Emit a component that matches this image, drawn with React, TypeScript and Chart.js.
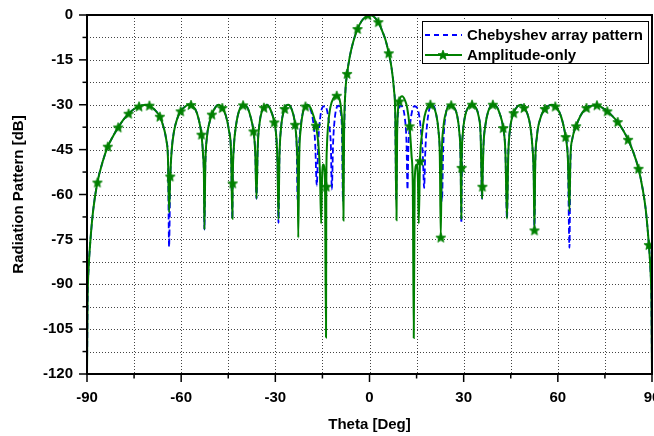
import React, { useEffect, useRef } from 'react';
import { Chart, registerables } from 'chart.js';

Chart.register(...registerables);

// ---------- data ----------
const xTickValues = [-90, -60, -30, 0, 30, 60, 90];
const yTickValues = [0, -15, -30, -45, -60, -75, -90, -105, -120];
const xTitle = 'Theta [Deg]';
const yTitle = 'Radiation Pattern [dB]';
const seriesNames = ['Chebyshev array pattern', 'Amplitude-only'];

// Chebyshev array pattern [theta, dB]
const chebyshevPattern: [number, number][] = [
  [-90, -120], [-89.8, -95], [-89.5, -85], [-89.0, -76.5], [-88.0, -65],
  [-86.69, -56], [-85.0, -49], [-83.37, -44], [-81.7, -40.5], [-80.06, -37.6],
  [-78.4, -35], [-76.74, -33], [-75.1, -31.5], [-73.43, -30.6], [-71.8, -30.1],
  [-70.11, -30.3], [-68.5, -31.6], [-66.8, -34], [-65.6, -37.5], [-64.7, -42],
  [-64.2, -48], [-63.85, -77.5], [-63.48, -55], [-63.0, -45], [-62.3, -39],
  [-61.3, -34.8], [-60.17, -32.2], [-58.5, -30.4], [-57.5, -30], [-56.85, -30.1],
  [-55.5, -31.5], [-54.5, -34.5], [-53.54, -40], [-53.0, -47], [-52.75, -54],
  [-52.6, -71.7], [-52.3, -50], [-51.8, -41], [-51.0, -36], [-50.22, -33.3],
  [-49.0, -30.7], [-48.0, -30], [-46.91, -31.1], [-45.8, -33.5], [-44.8, -38.5],
  [-44.1, -46], [-43.68, -68.1], [-43.59, -56.3], [-43.2, -44], [-42.6, -37.5],
  [-41.6, -32.2], [-40.28, -30.2], [-39.0, -30.8], [-37.9, -34], [-36.96, -38.9],
  [-36.4, -46], [-36.0, -61.4], [-35.6, -44], [-35.0, -36], [-34.3, -32.2],
  [-33.65, -31], [-32.7, -30], [-31.6, -31.5], [-30.33, -35.9], [-29.6, -42],
  [-29.3, -50], [-29.0, -69.5], [-28.7, -48], [-28.2, -38], [-27.02, -31.4],
  [-25.9, -30], [-24.8, -31.5], [-23.7, -36.7], [-23.2, -44], [-22.9, -62],
  [-22.5, -45], [-22.0, -38], [-21.2, -32.5], [-20.39, -30.6], [-19.8, -30],
  [-18.8, -31.5], [-17.9, -36], [-17.3, -43], [-16.8, -57], [-16.3, -42],
  [-15.6, -33.5], [-14.9, -30.7], [-14.2, -30.5], [-13.5, -32], [-12.8, -37],
  [-12.3, -44], [-12.0, -58.3], [-11.6, -43], [-11.0, -34], [-10.4, -30.8],
  [-9.9, -30.3], [-9.3, -32], [-8.8, -38], [-8.45, -62], [-8.1, -40],
  [-7.7, -26], [-7.13, -19.7], [-6.3, -14], [-5.2, -9], [-3.81, -4.7],
  [-2.5, -2], [-0.5, -0.1], [0, 0], [1.2, -0.4], [2.82, -2.4],
  [4.3, -6], [5.2, -8.7], [6.14, -12.8], [7.0, -17.5], [7.8, -25],
  [8.2, -33], [8.5, -62], [8.8, -38], [9.3, -32], [9.9, -30.3],
  [10.5, -30.8], [11.2, -34], [11.8, -43], [12.1, -58.3], [12.4, -44],
  [12.9, -37], [13.6, -32], [14.3, -30.5], [15.0, -30.8], [15.8, -33.5],
  [16.6, -41], [17.0, -47], [17.4, -57.8], [17.8, -45], [18.4, -36],
  [19.4, -30.6], [20.3, -30.2], [21.2, -33], [22.0, -39], [22.6, -48],
  [23.1, -62], [23.5, -44], [24.4, -32.5], [25.2, -30.4], [26.03, -30.2],
  [27.0, -31], [27.9, -33.5], [28.6, -39], [29.0, -47], [29.25, -69.5],
  [29.5, -45], [29.7, -40], [30.4, -34], [31.5, -30.8], [32.66, -30],
  [33.8, -30.8], [34.8, -34], [35.4, -40], [35.88, -61.4], [35.97, -57.4],
  [36.3, -44], [36.9, -37], [37.8, -32.3], [39.29, -30], [40.5, -30.6],
  [41.5, -33], [42.6, -37.8], [43.3, -46], [43.8, -68.1], [44.2, -47],
  [44.8, -38], [45.92, -32.8], [47.2, -30.5], [48.3, -30], [49.23, -31.1],
  [50.3, -33], [51.2, -37], [51.9, -44], [52.3, -53], [52.55, -72],
  [52.8, -50], [53.3, -41], [54.3, -35], [55.86, -31.4], [57.5, -30.1],
  [58.2, -30], [59.18, -30.6], [60.5, -32.5], [61.6, -36], [62.49, -40.8],
  [63.2, -48], [63.7, -77.8], [64.0, -50], [64.6, -41.5], [65.81, -37.2],
  [67.3, -33.5], [69.12, -31.1], [70.8, -30.3], [72.44, -30.2], [74.0, -30.9],
  [75.75, -32.2], [77.4, -33.8], [79.07, -35.8], [80.8, -38.5], [82.38, -41.7],
  [84.1, -46], [85.7, -51.4], [87.0, -58], [88.0, -65], [89.01, -76.9],
  [89.5, -85], [89.8, -95], [90, -120],
];

// Amplitude-only pattern [theta, dB]
const amplitudeOnly: [number, number][] = [
  [-90, -120], [-89.8, -95], [-89.5, -85], [-89.0, -76.5], [-88.0, -65],
  [-86.69, -56], [-85.0, -49], [-83.37, -44], [-81.7, -40.5], [-80.06, -37.6],
  [-78.4, -35], [-76.74, -33], [-75.1, -31.5], [-73.43, -30.6], [-71.8, -30.1],
  [-70.11, -30.3], [-68.5, -31.6], [-66.8, -34], [-65.6, -37.5], [-64.7, -42],
  [-64.2, -48], [-63.85, -66], [-63.48, -54], [-63.0, -45], [-62.3, -39],
  [-61.3, -34.8], [-60.17, -32.2], [-58.5, -30.4], [-57.5, -30], [-56.85, -30.1],
  [-55.5, -31.5], [-54.5, -34.5], [-53.54, -40], [-53.0, -47], [-52.75, -54],
  [-52.6, -71.7], [-52.3, -50], [-51.8, -41], [-51.0, -36], [-50.22, -33.3],
  [-49.0, -30.7], [-48.0, -30], [-46.91, -31.1], [-45.8, -33.5], [-44.8, -38.5],
  [-44.1, -46], [-43.68, -68.1], [-43.59, -56.3], [-43.2, -44], [-42.6, -37.5],
  [-41.6, -32.2], [-40.28, -30.2], [-39.0, -30.8], [-37.9, -34], [-36.96, -38.9],
  [-36.4, -46], [-36.0, -61.4], [-35.6, -44], [-35.0, -36], [-34.3, -32.2],
  [-33.65, -31], [-32.7, -30], [-31.6, -31.5], [-30.33, -35.9], [-29.6, -42],
  [-29.3, -50], [-29.0, -68.3], [-28.7, -48], [-28.2, -38], [-27.02, -31.4],
  [-25.9, -30], [-24.8, -31.5], [-23.7, -36.7], [-23.1, -45], [-22.85, -55],
  [-22.7, -74.4], [-22.4, -48], [-21.9, -38], [-21.2, -32.5], [-20.39, -30.6],
  [-19.7, -30], [-18.8, -31], [-17.9, -33.5], [-17.07, -37], [-16.3, -43],
  [-15.8, -52], [-15.4, -69.7], [-15.1, -54], [-14.7, -50], [-14.2, -55],
  [-13.85, -107.8], [-13.76, -57.4], [-13.6, -45], [-13.2, -37], [-12.5, -31],
  [-11.5, -27.8], [-10.44, -27], [-9.6, -28], [-9.0, -32], [-8.6, -40],
  [-8.3, -68.7], [-8.1, -40], [-7.7, -26], [-7.13, -19.7], [-6.3, -14],
  [-5.2, -9], [-3.81, -4.7], [-2.5, -2], [-0.5, -0.1], [0, 0],
  [1.2, -0.4], [2.82, -2.4], [4.3, -6], [5.2, -8.7], [6.14, -12.8],
  [7.0, -17.5], [7.8, -25], [8.2, -33], [8.6, -68.6], [8.8, -40],
  [9.45, -28.9], [10.4, -27.2], [11.3, -28.5], [12.0, -31], [12.77, -37.2],
  [13.4, -47], [13.8, -58], [14.1, -108], [14.4, -55], [15.0, -50],
  [15.4, -54], [15.7, -69.7], [16.08, -48.9], [16.7, -40], [17.5, -34],
  [18.4, -31], [19.4, -30], [20.3, -30.5], [21.2, -33], [22.0, -39],
  [22.4, -47], [22.71, -74.4], [23.0, -48], [23.5, -38], [24.4, -32.5],
  [25.2, -30.4], [26.03, -30.2], [27.0, -31], [27.9, -33.5], [28.6, -39],
  [29.0, -47], [29.25, -68.1], [29.34, -51.1], [29.7, -40], [30.4, -34],
  [31.5, -30.8], [32.66, -30], [33.8, -30.8], [34.8, -34], [35.4, -40],
  [35.88, -61.4], [35.97, -57.4], [36.3, -44], [36.9, -37], [37.8, -32.3],
  [39.29, -30], [40.5, -30.6], [41.5, -33], [42.6, -37.8], [43.3, -46],
  [43.8, -68.1], [44.2, -47], [44.8, -38], [45.92, -32.8], [47.2, -30.5],
  [48.3, -30], [49.23, -31.1], [50.3, -33], [51.2, -37], [51.9, -44],
  [52.3, -53], [52.55, -72], [52.8, -50], [53.3, -41], [54.3, -35],
  [55.86, -31.4], [57.5, -30.1], [58.2, -30], [59.18, -30.6], [60.5, -32.5],
  [61.6, -36], [62.49, -40.8], [63.2, -48], [63.7, -65.6], [64.0, -48],
  [64.6, -41.5], [65.81, -37.2], [67.3, -33.5], [69.12, -31.1], [70.8, -30.3],
  [72.44, -30.2], [74.0, -30.9], [75.75, -32.2], [77.4, -33.8], [79.07, -35.8],
  [80.8, -38.5], [82.38, -41.7], [84.1, -46], [85.7, -51.4], [87.0, -58],
  [88.0, -65], [89.01, -76.9], [89.5, -85], [89.8, -95], [90, -120],
];

// theta values (present in amplitudeOnly) carrying a star marker
const amplitudeStarTheta = [
  -86.69, -83.37, -80.06, -76.74, -73.43, -70.11, -66.8, -63.48, -60.17, -56.85,
  -53.54, -50.22, -46.91, -43.59, -40.28, -36.96, -33.65, -30.33, -27.02, -23.7,
  -20.39, -17.07, -13.76, -10.44, -7.13, -3.81, -0.5, 2.82, 6.14, 9.45,
  12.77, 16.08, 19.4, 22.71, 26.03, 29.34, 32.66, 35.97, 39.29, 42.6,
  45.92, 49.23, 52.55, 55.86, 59.18, 62.49, 65.81, 69.12, 72.44, 75.75,
  79.07, 82.38, 85.7, 89.01,
];

const GREEN = '#008000';
const BLUE = '#0000ff';
const FONT = "'Liberation Sans', Arial, Helvetica, sans-serif";

function starPath(ctx: CanvasRenderingContext2D, cx: number, cy: number, R: number, r: number) {
  ctx.beginPath();
  for (let i = 0; i < 10; i++) {
    const a = -Math.PI / 2 + (i * Math.PI) / 5;
    const rad = i % 2 === 0 ? R : r;
    ctx.lineTo(cx + rad * Math.cos(a), cy + rad * Math.sin(a));
  }
  ctx.closePath();
}

function makeStar(): HTMLCanvasElement {
  const c = document.createElement('canvas');
  c.width = 12;
  c.height = 12;
  const g = c.getContext('2d')!;
  starPath(g, 6, 6.3, 5.2, 2.3);
  g.fillStyle = GREEN;
  g.fill();
  g.strokeStyle = GREEN;
  g.lineWidth = 0.8;
  g.stroke();
  return c;
}

export default function App() {
  const ref = useRef<HTMLCanvasElement | null>(null);

  useEffect(() => {
    document.body.style.margin = '0';
    const canvas = ref.current;
    if (!canvas) return;
    const star = makeStar();
    const starSet = new Set(amplitudeStarTheta);

    const framePlugin = {
      id: 'frameAndGrid',
      beforeDatasetsDraw(chart: any) {
        const { ctx, chartArea } = chart;
        const xs = chart.scales.x;
        const ys = chart.scales.y;
        ctx.save();
        ctx.strokeStyle = '#444';
        ctx.lineWidth = 1;
        ctx.setLineDash([1, 2]);
        for (let v = -75; v <= 75; v += 15) {
          const px = Math.round(xs.getPixelForValue(v)) + 0.5;
          ctx.beginPath();
          ctx.moveTo(px, chartArea.top);
          ctx.lineTo(px, chartArea.bottom);
          ctx.stroke();
        }
        for (let v = -112.5; v <= -7.5; v += 7.5) {
          const py = Math.round(ys.getPixelForValue(v)) + 0.5;
          ctx.beginPath();
          ctx.moveTo(chartArea.left, py);
          ctx.lineTo(chartArea.right, py);
          ctx.stroke();
        }
        ctx.restore();
      },
      afterDraw(chart: any) {
        const { ctx, chartArea } = chart;
        const xs = chart.scales.x;
        const ys = chart.scales.y;
        ctx.save();
        // frame
        ctx.strokeStyle = '#000';
        ctx.lineWidth = 2;
        ctx.setLineDash([]);
        ctx.strokeRect(chartArea.left, chartArea.top, chartArea.right - chartArea.left, chartArea.bottom - chartArea.top);
        // ticks
        ctx.lineWidth = 1.5;
        for (let v = -90; v <= 90; v += 15) {
          const major = v % 30 === 0;
          const px = xs.getPixelForValue(v);
          ctx.beginPath();
          ctx.moveTo(px, chartArea.bottom);
          ctx.lineTo(px, chartArea.bottom + (major ? 8 : 4.5));
          ctx.stroke();
        }
        for (let v = -120; v <= 0; v += 7.5) {
          const major = v % 15 === 0;
          const py = ys.getPixelForValue(v);
          ctx.beginPath();
          ctx.moveTo(chartArea.left, py);
          ctx.lineTo(chartArea.left - (major ? 8 : 4.5), py);
          ctx.stroke();
        }
        // axis titles
        ctx.fillStyle = '#000';
        ctx.font = `bold 15px ${FONT}`;
        ctx.textAlign = 'center';
        ctx.textBaseline = 'alphabetic';
        ctx.fillText(xTitle, (chartArea.left + chartArea.right) / 2, 429);
        ctx.save();
        ctx.translate(23, (chartArea.top + chartArea.bottom) / 2);
        ctx.rotate(-Math.PI / 2);
        ctx.fillText(yTitle, 0, 0);
        ctx.restore();
        // legend
        const lx = 422, ly = 21, lw = 226, lh = 42;
        ctx.fillStyle = '#fff';
        ctx.fillRect(lx, ly, lw, lh);
        ctx.strokeStyle = '#000';
        ctx.lineWidth = 1;
        ctx.strokeRect(lx + 0.5, ly + 0.5, lw, lh);
        ctx.lineWidth = 2;
        ctx.strokeStyle = BLUE;
        ctx.setLineDash([5, 4]);
        ctx.beginPath();
        ctx.moveTo(425, 35);
        ctx.lineTo(462, 35);
        ctx.stroke();
        ctx.setLineDash([]);
        ctx.strokeStyle = GREEN;
        ctx.beginPath();
        ctx.moveTo(425, 55);
        ctx.lineTo(462, 55);
        ctx.stroke();
        ctx.drawImage(star, 443 - 6, 55 - 6);
        ctx.fillStyle = '#000';
        ctx.textAlign = 'left';
        ctx.fillText(seriesNames[0], 467, 40);
        ctx.fillText(seriesNames[1], 467, 60);
        ctx.restore();
      },
    };

    const tickFont = { family: FONT, size: 15, weight: 'bold' as const };

    const chart = new Chart(canvas, {
      type: 'line',
      data: {
        datasets: [
          {
            label: seriesNames[1],
            data: amplitudeOnly.map(([x, y]) => ({ x, y })),
            borderColor: GREEN,
            backgroundColor: GREEN,
            borderWidth: 2,
            cubicInterpolationMode: 'monotone',
            pointStyle: star as any,
            pointRadius: (c: any) => (starSet.has(amplitudeOnly[c.dataIndex]?.[0]) ? 4 : 0),
            pointHoverRadius: 0,
            order: 1,
          },
          {
            label: seriesNames[0],
            data: chebyshevPattern.map(([x, y]) => ({ x, y })),
            borderColor: BLUE,
            borderWidth: 1.8,
            borderDash: [6, 3],
            cubicInterpolationMode: 'monotone',
            pointRadius: 0,
            order: 2,
          },
        ],
      },
      options: {
        animation: false,
        responsive: true,
        maintainAspectRatio: false,
        parsing: false as any,
        layout: { padding: { top: 15, right: 2, left: 0, bottom: 0 } },
        plugins: { legend: { display: false }, tooltip: { enabled: false } },
        events: [],
        scales: {
          x: {
            type: 'linear',
            min: -90,
            max: 90,
            afterBuildTicks: (s: any) => {
              s.ticks = xTickValues.map((v) => ({ value: v }));
            },
            ticks: { font: tickFont, color: '#000', padding: 15, maxRotation: 0, autoSkip: false },
            grid: { display: false, drawTicks: false },
            border: { display: false },
            afterFit: (s: any) => {
              s.height = 62;
              s.paddingLeft = 0;
              s.paddingRight = 0;
            },
          },
          y: {
            type: 'linear',
            min: -120,
            max: 0,
            afterBuildTicks: (s: any) => {
              s.ticks = yTickValues.map((v) => ({ value: v }));
            },
            ticks: { font: tickFont, color: '#000', padding: 14, autoSkip: false },
            grid: { display: false, drawTicks: false },
            border: { display: false },
            afterFit: (s: any) => {
              s.width = 87;
              s.paddingTop = 0;
              s.paddingBottom = 0;
            },
          },
        },
      },
      plugins: [framePlugin],
    });
    return () => chart.destroy();
  }, []);

  return (
    <div style={{ position: 'absolute', left: 0, top: 0, width: 654, height: 436, overflow: 'hidden', background: '#fff' }}>
      <canvas ref={ref} />
    </div>
  );
}
